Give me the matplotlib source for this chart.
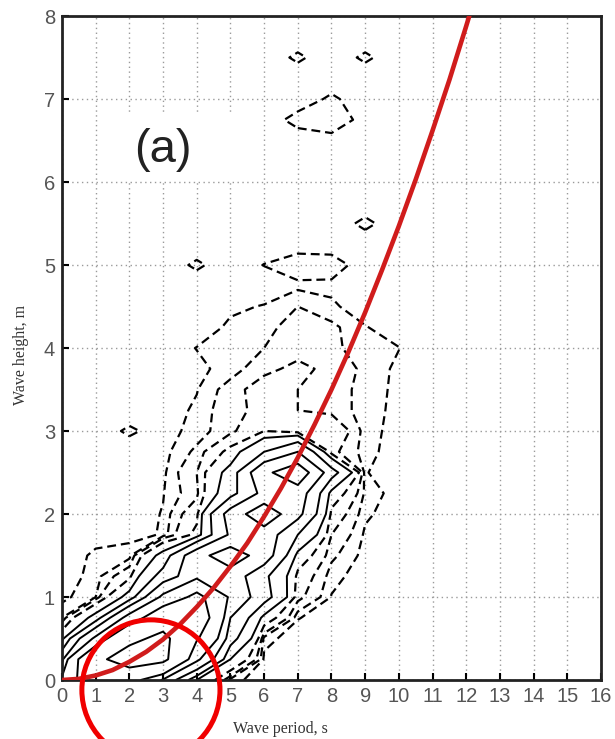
import numpy as np
import matplotlib.pyplot as plt
from matplotlib.patches import Ellipse, Rectangle

# joint occurrence table: rows = wave height bins (0..8 m, step 0.25),
# columns = wave period bins (0..11 s, step 1); bins beyond 11 s are empty
period = np.arange(0, 17)
height = np.arange(0, 8.01, 0.25)

counts_table = [
    [120, 300, 250, 100, 20, 1.5, 0, 0, 0, 0, 0, 0],      # 0.00
    [60, 350, 500, 450, 120, 20, 0.5, 0, 0, 0, 0, 0],     # 0.25
    [15, 120, 350, 450, 210, 50, 1.5, 0, 0, 0, 0, 0],     # 0.50
    [2.5, 25, 130, 300, 280, 70, 15, 1.0, 0, 0, 0, 0],    # 0.75
    [0.3, 2.5, 25, 120, 230, 100, 50, 6, 0.8, 0, 0, 0],   # 1.00
    [0, 1.5, 8, 50, 95, 90, 45, 8, 1.5, 0, 0, 0],         # 1.25
    [0, 1.2, 1.5, 25, 95, 135, 90, 15, 3, 0.3, 0, 0],     # 1.50
    [0, 0.3, 0.5, 1.0, 12, 75, 90, 40, 5, 0.6, 0, 0],     # 1.75
    [0, 0, 0, 1.0, 8, 85, 140, 80, 8, 1.2, 0, 0],         # 2.00
    [0, 0, 0, 0.8, 4, 30, 80, 90, 15, 2, 0, 0],           # 2.25
    [0, 0, 0, 0.5, 5, 25, 100, 140, 50, 1, 0, 0],         # 2.50
    [0, 0, 0, 0.3, 3, 12, 40, 70, 6, 1.5, 0, 0],          # 2.75
    [0, 0, 1.2, 0.2, 1.5, 4, 10, 6, 9, 1.5, 0.3, 0],      # 3.00
    [0, 0, 0, 0, 1.2, 4, 6, 5, 4, 1.5, 0.5, 0],           # 3.25
    [0, 0, 0, 0, 0.8, 3.5, 7, 5, 4, 1.5, 0.6, 0],         # 3.50
    [0, 0, 0, 0, 0.5, 1.5, 4, 6, 4, 2, 0.5, 0],           # 3.75
    [0, 0, 0, 0, 0.95, 1.5, 2.5, 3.5, 3, 1.5, 0.95, 0],   # 4.00
    [0, 0, 0, 0, 0, 1.2, 1.5, 4, 3, 1, 0, 0],             # 4.25
    [0, 0, 0, 0, 0, 0.6, 1.0, 2.5, 1.2, 0, 0, 0],         # 4.50
    [0, 0, 0, 0, 0, 0, 0, 0.5, 0.5, 0, 0, 0],             # 4.75
    [0, 0, 0, 0, 1.2, 0, 0.95, 2, 1.8, 0, 0, 0],          # 5.00
    [0, 0, 0, 0, 0, 0, 0, 0, 0, 0, 0, 0],                 # 5.25
    [0, 0, 0, 0, 0, 0, 0, 0, 0, 1.3, 0, 0],               # 5.50
    [0, 0, 0, 0, 0, 0, 0, 0, 0, 0, 0, 0],                 # 5.75
    [0, 0, 0, 0, 0, 0, 0, 0, 0, 0, 0, 0],                 # 6.00
    [0, 0, 0, 0, 0, 0, 0, 0, 0, 0, 0, 0],                 # 6.25
    [0, 0, 0, 0, 0, 0, 0, 0, 0, 0, 0, 0],                 # 6.50
    [0, 0, 0, 0, 0, 0, 0, 1.5, 2.5, 0, 0, 0],             # 6.75
    [0, 0, 0, 0, 0, 0, 0, 0, 1.2, 0, 0, 0],               # 7.00
    [0, 0, 0, 0, 0, 0, 0, 0, 0, 0, 0, 0],                 # 7.25
    [0, 0, 0, 0, 0, 0, 0, 1.2, 0, 1.2, 0, 0],             # 7.50
    [0, 0, 0, 0, 0, 0, 0, 0, 0, 0, 0, 0],                 # 7.75
    [0, 0, 0, 0, 0, 0, 0, 0, 0, 0, 0, 0],                 # 8.00
]

dashed_levels = [0.9, 2.5, 5, 10]
solid_levels = [20, 40, 70, 110, 200, 400]

# red limiting-steepness curve
curve_T = [0, 0.5, 1, 1.5, 2, 2.5, 3, 3.5, 4, 4.5, 5, 5.5, 6, 6.5, 7, 7.5,
           8, 8.5, 9, 9.5, 10, 10.5, 11, 11.5, 12, 12.5]
curve_H = [0, 0.014, 0.055, 0.12, 0.22, 0.34, 0.49, 0.67, 0.88, 1.11, 1.37,
           1.65, 1.97, 2.31, 2.68, 3.08, 3.5, 3.95, 4.43, 4.94, 5.47, 6.03,
           6.62, 7.23, 7.88, 8.55]

counts = np.array(counts_table, dtype=float)
counts = np.pad(counts, ((0, 0), (0, len(period) - counts.shape[1])))

plt.rcParams["lines.dashed_pattern"] = [4, 2.2]

fig = plt.figure(figsize=(6.15, 7.39), dpi=100)
ax = fig.add_axes([0.1008, 0.0798, 0.8764, 0.8985])

ax.set_xlim(0, 16)
ax.set_ylim(0, 8)
ax.set_xticks(range(17))
ax.set_yticks(range(9))
ax.grid(True, color="#9a9a9a", linestyle=(0, (1, 2.5)), linewidth=1.0)

# white box behind the panel label
ax.add_patch(Rectangle((1.81, 6.02), 3.86, 0.81, facecolor="white",
                       edgecolor="none", zorder=1.6))

ax.contour(period, height, counts, levels=dashed_levels, colors="k",
           linestyles="--", linewidths=1.6, zorder=2)
ax.contour(period, height, counts, levels=solid_levels, colors="k",
           linestyles="-", linewidths=1.4, zorder=2)

ax.plot(curve_T, curve_H, color="#d01c1c", linewidth=3.3, zorder=3,
        solid_capstyle="butt")

ax.text(3.0, 6.39, "(a)", ha="center", va="center", fontsize=34,
        family="Liberation Sans", color="#222222", zorder=4)

ax.add_patch(Ellipse((2.64, -0.12), 4.1, 1.69, fill=False,
                     edgecolor="#f00000", linewidth=3.6, clip_on=False,
                     zorder=10))

for side in ax.spines.values():
    side.set_linewidth(2.0)
    side.set_color("#222222")

ax.tick_params(direction="in", length=5, width=1.5, labelsize=14.5,
               labelcolor="#555555")
ax.tick_params(axis="x", pad=5)
ax.tick_params(axis="y", pad=5)
for lab in ax.get_xticklabels() + ax.get_yticklabels():
    lab.set_family("Liberation Sans")

ax.set_xlabel("Wave period, s", family="Liberation Serif", fontsize=11.5,
              color="#333333")
ax.set_ylabel("Wave height, m", family="Liberation Serif", fontsize=11.5,
              color="#333333")
ax.xaxis.set_label_coords(0.405, -0.062)
ax.yaxis.set_label_coords(-0.062, 0.49)

fig.savefig("out.png", dpi=100)
